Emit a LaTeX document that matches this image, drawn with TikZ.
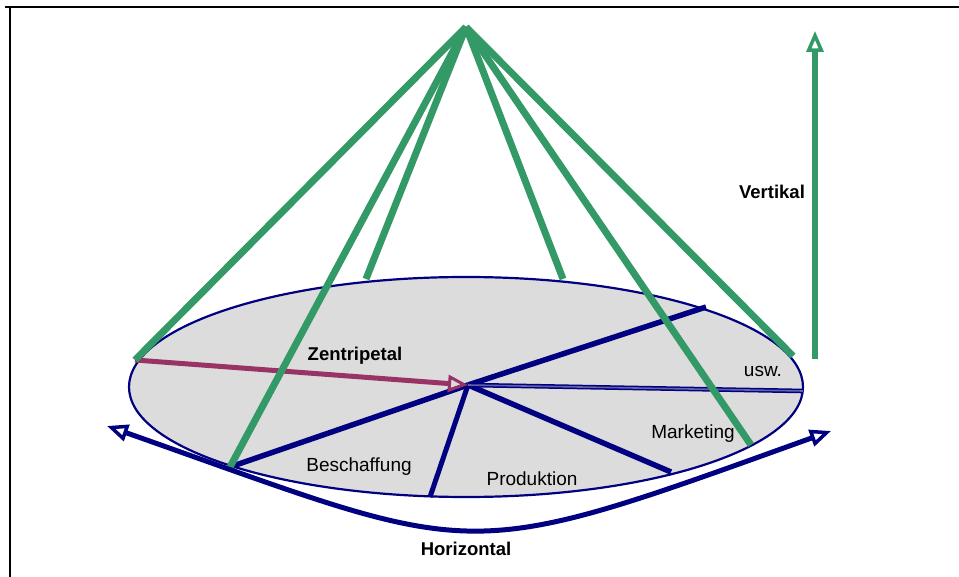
\documentclass[tikz,border=0pt]{standalone}
\usepackage{fontspec}
\setmainfont{Liberation Sans}
\usetikzlibrary{arrows.meta}
\definecolor{navyblue}{HTML}{000080}
\definecolor{leafgreen}{HTML}{339966}
\definecolor{plum}{HTML}{993366}
\definecolor{discgrey}{HTML}{DCDCDC}
\tikzset{
  spoke/.style={navyblue, line width=5.5pt},
  rib/.style={leafgreen, line width=7pt},
  lbl/.style={font=\fontsize{19}{21}\selectfont, inner sep=0pt},
  boldlbl/.style={lbl, font=\fontsize{18.5}{21}\selectfont\bfseries},
  openhead/.tip={Triangle[open, length=21pt, width=17pt, line width=3.5pt]},
}
\begin{document}
\begin{tikzpicture}[x=1pt, y=-1pt, line cap=butt]
\useasboundingbox (0,0) rectangle (959,577);
% frame (top and left edges only)
\draw[black, line width=2.6pt] (5,7) -- (959,7);
\draw[black, line width=2.6pt] (10,7) -- (10,577);

% the disc
\draw[navyblue, fill=discgrey, line width=2.2pt] (466,387) ellipse [x radius=337, y radius=110];

% points on the disc
\coordinate (apex) at (466,27);
\coordinate (hub) at (468,385);
\coordinate (pl) at (135,360);
\coordinate (pbl) at (230,467);
\coordinate (pt1) at (366,279);
\coordinate (pt2) at (563,279);
\coordinate (pbr) at (751,445);
\coordinate (pr) at (793,356);
\coordinate (sur) at (706,307);
\coordinate (sb) at (430,497);
\coordinate (sbr) at (671,472);
\coordinate (sr) at (803,391);

% sector spokes
\draw[spoke] (hub) -- (sur);
\draw[spoke] (hub) -- (pbl);
\draw[spoke, line width=5pt] (hub) -- (sb);
\draw[spoke] (hub) -- (sbr);
\draw[navyblue, line width=1.5pt, double=navyblue!55!discgrey, double distance=1.6pt] (hub) -- (sr);

% centripetal arrow
\draw[plum, line width=5pt, -{Triangle[open, length=20pt, width=17pt, line width=3pt]}] (pl) -- (hub);

% ribs from the apex
\foreach \p in {pl,pbl,pt1,pt2,pbr,pr}
  \draw[rib] (apex) -- (\p);

% vertical arrow
\coordinate (vb) at (815,359);
\coordinate (vt) at (815,31);
\draw[leafgreen, line width=6pt, -openhead] (vb) -- (vt);

% horizontal arrow
\coordinate (hl) at (107,426);
\coordinate (hr) at (831,431);
\draw[navyblue, line width=5pt, openhead-openhead]
  (hl) .. controls (485,559) and (453,567) .. (hr);

% labels
\node[boldlbl] (zen) at (355,356) {Zentripetal};
\node[boldlbl] (ver) at (772,192) {Vertikal};
\node[boldlbl] (hor) at (466,549) {Horizontal};
\node[lbl] (usw) at (763,371) {usw.};
\node[lbl] (mkt) at (693,434) {Marketing};
\node[lbl] (prd) at (532,479) {Produktion};
\node[lbl] (bes) at (359,467) {Beschaffung};
\end{tikzpicture}
\end{document}
